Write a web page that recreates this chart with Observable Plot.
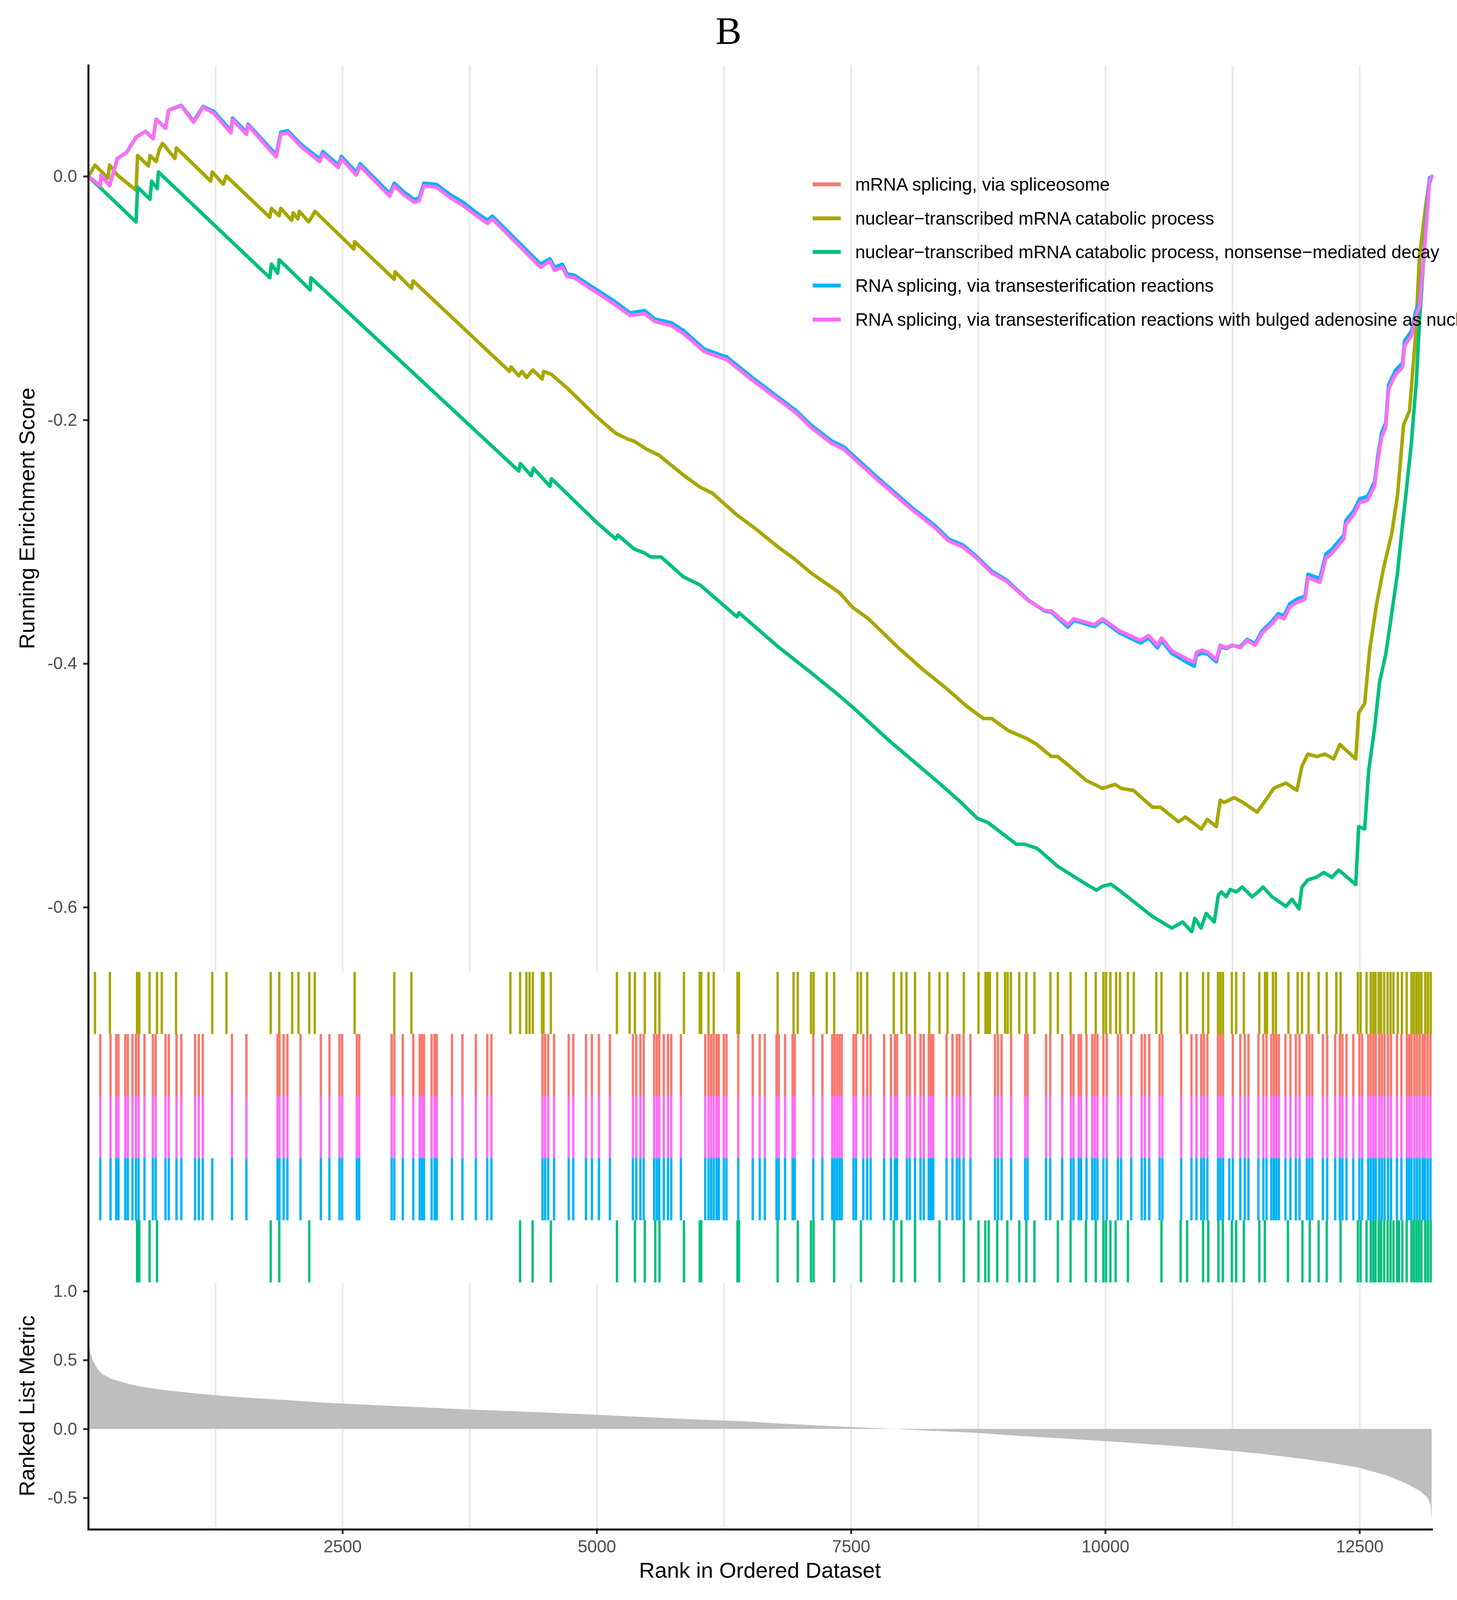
<!DOCTYPE html>
<html>
<head>
<meta charset="utf-8">
<script src="https://cdn.jsdelivr.net/npm/d3@7"></script>
<script src="https://cdn.jsdelivr.net/npm/@observablehq/plot@0.6"></script>
<style>
  html, body { margin: 0; background: #fff; overflow: hidden; }
  #chart { position: relative; width: 3731px; height: 4220px; background: #fff; overflow: hidden;
           font-family: "Liberation Sans", Arial, sans-serif; }
  .panel { position: absolute; left: 0; }
  #title { position: absolute; left: 0; width: 3731px; text-align: center;
           font-family: "Liberation Serif", "Times New Roman", serif; font-size: 100px; line-height: 100px; }
  .ytitle { position: absolute; left: 68px; font-size: 56px; white-space: nowrap; color: #000;
            transform: translate(-50%, -50%) rotate(-90deg); }
  #xtitle { position: absolute; left: 1946px; font-size: 56px; white-space: nowrap;
            transform: translate(-50%, -50%); }
  #legend { position: absolute; left: 2081px; white-space: nowrap; }
  .lrow { display: flex; align-items: center; font-size: 46px; }
  .lkey { width: 72px; height: 10px; margin-right: 37px; flex: none; }
</style>
</head>
<body>
<div id="chart">
  <div id="title">B</div>
  <div class="panel" id="p1"></div>
  <div class="panel" id="p2"></div>
  <div class="panel" id="p3"></div>
  <div class="ytitle" id="ytitle1">Running Enrichment Score</div>
  <div class="ytitle" id="ytitle2">Ranked List Metric</div>
  <div id="xtitle">Rank in Ordered Dataset</div>
  <div id="legend"></div>
</div>
<script>
// gene sets, in legend order
const setNames = [
  "mRNA splicing, via spliceosome",
  "nuclear\u2212transcribed mRNA catabolic process",
  "nuclear\u2212transcribed mRNA catabolic process, nonsense\u2212mediated decay",
  "RNA splicing, via transesterification reactions",
  "RNA splicing, via transesterification reactions with bulged adenosine as nucleophile"
];
const setColors = ["#FA786D", "#A7A700", "#00BF7D", "#00B2F6", "#FC6EF5"];
// rug rows top to bottom
const rugOrder = [setNames[1], setNames[0], setNames[4], setNames[3], setNames[2]];

const nGenes = 13209;
const gridTicks = [1250, 2500, 3750, 5000, 6250, 7500, 8750, 10000, 11250, 12500];
const xTicks = [2500, 5000, 7500, 10000, 12500];
const esTicks = [-0.6, -0.4, -0.2, 0.0];
const metricTicks = [-0.5, 0.0, 0.5, 1.0];

// running enrichment score, [rank, ES]
const splicingES = [[1,0],[117,-0.0075],[126,0.0012],[209,-0.0075],[285,0.0148],[377,0.0198],[469,0.0322],[560,0.0371],[637,0.031],[667,0.047],[759,0.0396],[790,0.0545],[912,0.0582],[1035,0.0446],[1127,0.057],[1234,0.052],[1402,0.0359],[1417,0.047],[1555,0.0347],[1570,0.0421],[1846,0.0161],[1892,0.0347],[1962,0.0359],[2090,0.0247],[2274,0.0123],[2305,0.0185],[2458,0.0074],[2488,0.0148],[2635,0.0012],[2672,0.0086],[2963,-0.0162],[3008,-0.0075],[3100,-0.0149],[3207,-0.0211],[3253,-0.0199],[3299,-0.0075],[3422,-0.0087],[3559,-0.0174],[3682,-0.0236],[3819,-0.0323],[3926,-0.0385],[3972,-0.0348],[4447,-0.0745],[4538,-0.0695],[4584,-0.077],[4661,-0.0745],[4707,-0.082],[4777,-0.0831],[5165,-0.1043],[5327,-0.1141],[5468,-0.1125],[5569,-0.119],[5731,-0.1223],[5852,-0.1289],[6054,-0.1436],[6216,-0.1485],[6276,-0.1502],[6519,-0.1665],[6781,-0.1829],[6963,-0.1944],[7105,-0.2059],[7307,-0.219],[7428,-0.2239],[7751,-0.2484],[8115,-0.2746],[8317,-0.2878],[8458,-0.2992],[8599,-0.3041],[8721,-0.3123],[8882,-0.3254],[9024,-0.332],[9246,-0.3484],[9407,-0.3566],[9468,-0.3566],[9630,-0.368],[9690,-0.3631],[9892,-0.368],[9973,-0.3631],[10135,-0.3729],[10345,-0.3808],[10424,-0.3769],[10512,-0.3848],[10551,-0.3789],[10652,-0.3893],[10815,-0.3967],[10874,-0.3987],[10894,-0.3908],[10953,-0.3888],[11011,-0.3908],[11090,-0.3967],[11129,-0.3848],[11188,-0.3868],[11247,-0.3848],[11325,-0.3868],[11393,-0.3808],[11472,-0.3848],[11540,-0.3749],[11638,-0.367],[11697,-0.361],[11756,-0.363],[11815,-0.3531],[11893,-0.3491],[11961,-0.3471],[11991,-0.3292],[12108,-0.3332],[12167,-0.3134],[12226,-0.3094],[12343,-0.2975],[12363,-0.2855],[12441,-0.2776],[12500,-0.2677],[12578,-0.2657],[12647,-0.2538],[12676,-0.2339],[12715,-0.2141],[12755,-0.2061],[12784,-0.1743],[12853,-0.1624],[12921,-0.1565],[12941,-0.1386],[13009,-0.1307],[13049,-0.1148],[13088,-0.1069],[13117,-0.079],[13137,-0.0592],[13166,-0.0274],[13186,-0.0036],[13209,0]];
const transES = [[1,0],[117,-0.0075],[126,0.0012],[209,-0.0075],[285,0.0148],[377,0.0198],[469,0.0322],[560,0.0371],[637,0.0315],[667,0.047],[759,0.04],[790,0.0545],[912,0.0585],[1035,0.0455],[1127,0.0575],[1234,0.0535],[1402,0.0375],[1417,0.048],[1555,0.0365],[1570,0.043],[1846,0.018],[1892,0.0365],[1962,0.0375],[2090,0.0265],[2274,0.0145],[2305,0.0205],[2458,0.0095],[2488,0.0165],[2635,0.0035],[2672,0.0105],[2963,-0.014],[3008,-0.0055],[3100,-0.0125],[3207,-0.019],[3253,-0.0175],[3299,-0.0055],[3422,-0.0065],[3559,-0.015],[3682,-0.021],[3819,-0.03],[3926,-0.036],[3972,-0.0325],[4447,-0.072],[4538,-0.0675],[4584,-0.0745],[4661,-0.072],[4707,-0.08],[4777,-0.081],[5165,-0.102],[5327,-0.112],[5468,-0.11],[5569,-0.117],[5731,-0.12],[5852,-0.1265],[6054,-0.1415],[6216,-0.1465],[6276,-0.148],[6519,-0.1645],[6781,-0.181],[6963,-0.1925],[7105,-0.204],[7307,-0.217],[7428,-0.222],[7751,-0.2465],[8115,-0.273],[8317,-0.286],[8458,-0.2975],[8599,-0.3025],[8721,-0.311],[8882,-0.324],[9024,-0.331],[9246,-0.348],[9407,-0.357],[9468,-0.3575],[9630,-0.37],[9690,-0.3645],[9892,-0.3695],[9973,-0.3645],[10135,-0.3745],[10345,-0.383],[10424,-0.379],[10512,-0.387],[10551,-0.381],[10652,-0.3915],[10815,-0.3995],[10874,-0.402],[10894,-0.3935],[10953,-0.391],[11011,-0.3925],[11090,-0.3985],[11129,-0.386],[11188,-0.3875],[11247,-0.385],[11325,-0.386],[11393,-0.38],[11472,-0.3835],[11540,-0.373],[11638,-0.365],[11697,-0.359],[11756,-0.3605],[11815,-0.3505],[11893,-0.3465],[11961,-0.3445],[11991,-0.3265],[12108,-0.33],[12167,-0.31],[12226,-0.306],[12343,-0.2945],[12363,-0.2825],[12441,-0.2745],[12500,-0.2645],[12578,-0.2625],[12647,-0.2505],[12676,-0.2305],[12715,-0.2105],[12755,-0.2025],[12784,-0.171],[12853,-0.159],[12921,-0.153],[12941,-0.135],[13009,-0.127],[13049,-0.111],[13088,-0.103],[13117,-0.0755],[13137,-0.056],[13166,-0.0245],[13186,-0.001],[13209,0]];
const catabolicES = [[1,0],[65,0.0094],[193,-0.0013],[209,0.0094],[285,0.0012],[469,-0.0112],[484,0.0173],[591,0.0086],[606,0.0173],[667,0.0123],[698,0.0223],[729,0.0272],[851,0.0148],[866,0.0235],[1203,-0.0038],[1218,0.0037],[1325,-0.0063],[1356,0.0004],[1784,-0.0335],[1800,-0.0261],[1876,-0.0323],[1892,-0.0261],[1999,-0.036],[2014,-0.0298],[2060,-0.0348],[2075,-0.0286],[2167,-0.0373],[2228,-0.0286],[2611,-0.0596],[2617,-0.0534],[3008,-0.0844],[3015,-0.0782],[3177,-0.0918],[3192,-0.0856],[4141,-0.16],[4156,-0.1563],[4232,-0.1637],[4263,-0.16],[4309,-0.165],[4370,-0.1588],[4462,-0.1662],[4477,-0.16],[4554,-0.1625],[4721,-0.1747],[5004,-0.1977],[5186,-0.2108],[5307,-0.2157],[5367,-0.2173],[5489,-0.2239],[5610,-0.2288],[5852,-0.2452],[6014,-0.255],[6135,-0.2599],[6377,-0.2779],[6539,-0.2878],[6781,-0.3041],[6943,-0.314],[7105,-0.3254],[7387,-0.3418],[7509,-0.3533],[7670,-0.3631],[7953,-0.386],[8195,-0.404],[8438,-0.4204],[8640,-0.4352],[8801,-0.445],[8882,-0.445],[9044,-0.4548],[9226,-0.4614],[9327,-0.4663],[9468,-0.4761],[9529,-0.4761],[9650,-0.4843],[9811,-0.4958],[9973,-0.5023],[10094,-0.499],[10155,-0.5023],[10276,-0.504],[10463,-0.5178],[10541,-0.5178],[10718,-0.5297],[10786,-0.5258],[10943,-0.5357],[11002,-0.5278],[11090,-0.5337],[11129,-0.5119],[11168,-0.5139],[11266,-0.5099],[11354,-0.5139],[11491,-0.5218],[11560,-0.5139],[11658,-0.502],[11775,-0.498],[11883,-0.5039],[11932,-0.4841],[11991,-0.4742],[12079,-0.4762],[12157,-0.4742],[12245,-0.4781],[12304,-0.4662],[12461,-0.4781],[12490,-0.4404],[12549,-0.4325],[12598,-0.3888],[12666,-0.351],[12735,-0.3213],[12814,-0.2935],[12872,-0.2617],[12931,-0.2041],[12990,-0.1922],[13049,-0.1306],[13088,-0.0651],[13147,-0.0254],[13186,-0.0036],[13209,0]];
const nmdES = [[1,0],[469,-0.0373],[484,-0.0087],[606,-0.0187],[622,-0.0038],[677,-0.01],[689,0.0037],[1784,-0.0831],[1800,-0.0719],[1861,-0.0794],[1876,-0.0683],[2182,-0.0931],[2188,-0.0831],[4232,-0.2418],[4248,-0.2357],[4355,-0.2456],[4376,-0.2394],[4538,-0.2543],[4554,-0.2481],[4802,-0.2681],[5004,-0.2845],[5186,-0.2976],[5206,-0.2943],[5367,-0.3058],[5468,-0.3091],[5529,-0.3123],[5630,-0.3123],[5852,-0.3287],[6014,-0.3353],[6377,-0.3615],[6398,-0.3582],[6781,-0.386],[7105,-0.4073],[7347,-0.4237],[7509,-0.4352],[7872,-0.463],[8357,-0.4974],[8559,-0.5122],[8741,-0.5269],[8842,-0.5302],[9125,-0.5482],[9206,-0.5482],[9327,-0.5515],[9529,-0.5662],[9811,-0.581],[9912,-0.5859],[9973,-0.5826],[10054,-0.581],[10135,-0.5859],[10458,-0.6072],[10652,-0.617],[10760,-0.612],[10848,-0.62],[10880,-0.609],[10940,-0.617],[10990,-0.605],[11070,-0.612],[11110,-0.59],[11139,-0.5873],[11188,-0.5913],[11227,-0.5853],[11286,-0.5873],[11345,-0.5833],[11442,-0.5913],[11501,-0.5873],[11550,-0.5833],[11638,-0.5913],[11775,-0.5992],[11834,-0.5933],[11903,-0.6012],[11932,-0.5833],[11991,-0.5774],[12070,-0.5754],[12147,-0.5714],[12226,-0.5754],[12294,-0.5694],[12461,-0.5813],[12490,-0.5337],[12549,-0.5357],[12588,-0.488],[12647,-0.4523],[12696,-0.4146],[12755,-0.3927],[12804,-0.365],[12872,-0.3253],[12911,-0.2935],[12951,-0.2637],[13009,-0.218],[13058,-0.1664],[13088,-0.1188],[13117,-0.083],[13147,-0.0433],[13176,-0.0076],[13209,0]];

// hit positions (rank) for the rug rows
const splicingHits = [117,218,274,296,363,388,434,468,494,552,634,662,759,791,867,914,1050,1086,1125,1412,1554,1860,1879,1920,1957,2086,2286,2370,2469,2495,2639,2663,2982,3008,3092,3195,3258,3280,3300,3375,3405,3426,3575,3678,3810,3922,3963,4465,4491,4521,4579,4723,4768,4893,4951,5020,5128,5354,5387,5428,5460,5563,5589,5613,5658,5699,5731,5826,6065,6097,6123,6149,6177,6199,6248,6274,6390,6532,6601,6651,6766,6788,6850,6924,6945,7128,7217,7314,7337,7361,7385,7408,7523,7548,7619,7658,7691,7824,7891,7930,7951,8048,8076,8128,8182,8214,8263,8285,8307,8438,8496,8539,8565,8606,8673,8914,8944,8979,9073,9211,9235,9416,9457,9575,9661,9687,9737,9760,9814,9870,9896,9922,9980,10013,10123,10154,10254,10357,10388,10431,10533,10560,10745,10846,10895,10942,10968,11002,11107,11131,11156,11252,11326,11370,11406,11504,11553,11584,11631,11656,11680,11705,11770,11819,11872,11908,11980,12006,12033,12138,12180,12259,12305,12330,12370,12437,12497,12524,12584,12609,12634,12658,12692,12718,12745,12779,12808,12866,12910,12964,12986,13009,13038,13064,13091,13120,13142,13169,13196];
const transExtraHits = [1218, 11218];
const catabolicHits = [65,212,479,501,602,675,722,862,1218,1358,1793,1877,2004,2066,2172,2226,2618,3008,3176,4150,4245,4307,4338,4370,4460,4475,4547,5197,5322,5374,5471,5574,5615,5856,6011,6026,6097,6149,6382,6397,6777,6934,6975,7105,7131,7260,7333,7563,7596,7658,7919,7994,8044,8128,8268,8369,8447,8608,8752,8821,8843,8864,8936,9013,9039,9071,9153,9222,9302,9459,9532,9657,9808,9905,9980,10006,10049,10105,10143,10221,10279,10500,10551,10739,10803,10960,11011,11107,11131,11156,11243,11285,11361,11513,11569,11589,11647,11676,11799,11890,11933,11997,12096,12176,12270,12312,12482,12509,12567,12609,12634,12656,12687,12710,12741,12774,12803,12832,12875,12915,12962,13009,13033,13058,13082,13107,13145,13171,13198];
const nmdHits = [479,501,602,675,1793,1877,2172,4245,4368,4547,5197,5374,5471,5574,5615,5856,6011,6026,6382,6397,6777,6975,7105,7131,7333,7596,7919,7994,8128,8369,8608,8752,8819,8852,8936,9035,9153,9222,9302,9532,9657,9808,9905,9980,10006,10049,10100,10221,10551,10739,10803,10960,11011,11111,11154,11243,11285,11361,11513,11567,11794,11937,12009,12096,12176,12312,12482,12509,12567,12609,12634,12656,12687,12710,12741,12774,12803,12832,12868,12886,12919,12962,13009,13033,13058,13082,13107,13145,13171,13198];

// ranked list metric, [rank, value]
const metric = [[1,0.63],[20,0.56],[46,0.5],[92,0.435],[137,0.4],[229,0.363],[412,0.323],[595,0.298],[778,0.279],[962,0.265],[1236,0.245],[1511,0.229],[1877,0.213],[2335,0.19],[2793,0.174],[3251,0.158],[3709,0.142],[4167,0.129],[4625,0.115],[5083,0.1],[5541,0.084],[5998,0.068],[6456,0.055],[6914,0.035],[7372,0.019],[7738,0.006],[7922,0],[8288,-0.013],[8746,-0.029],[9204,-0.053],[9662,-0.073],[10120,-0.094],[10577,-0.118],[11035,-0.145],[11493,-0.177],[11951,-0.218],[12226,-0.247],[12500,-0.282],[12775,-0.339],[12958,-0.395],[13096,-0.45],[13170,-0.5],[13200,-0.56],[13209,-0.65]];

const toRows = (pairs) => pairs.map(([rank, v]) => ({rank, v}));
const W = 3731, mL = 226, mR = 65;
// fit the figure's height to the visible window
const k = Math.min(1, (window.innerHeight || 4220) / 4220);
const Y = v => Math.round(v * k);
const baseStyle = {fontFamily: "Liberation Sans, Arial, sans-serif", fontSize: "44px", color: "#4D4D4D", background: "white", overflow: "visible"};
const fmt = d => d.toFixed(1);

const panelTop = [Y(150), Y(2562), Y(3383)];
const chart = document.getElementById("chart");
chart.style.height = Y(4220) + "px";
document.getElementById("title").style.top = Y(30) + "px";
["p1", "p2", "p3"].forEach((id, i) => document.getElementById(id).style.top = panelTop[i] + "px");
document.getElementById("ytitle1").style.top = Y(1367) + "px";
document.getElementById("ytitle2").style.top = Y(3708) + "px";
document.getElementById("xtitle").style.top = Y(4141) + "px";

// running score panel
const curves = [
  [splicingES, setColors[0]],
  [catabolicES, setColors[1]],
  [nmdES, setColors[2]],
  [transES, setColors[3]],
  [splicingES, setColors[4]]
];
const p1 = Plot.plot({
  width: W, height: panelTop[1] - panelTop[0],
  marginTop: Y(172) - panelTop[0], marginBottom: 0, marginLeft: mL, marginRight: mR,
  style: baseStyle,
  x: {domain: [1, nGenes], axis: null},
  y: {domain: [-0.6528, 0.0912], axis: null},
  marks: [
    Plot.ruleX(gridTicks, {stroke: "#EBEBEB", strokeWidth: 5}),
    ...curves.map(([pairs, c]) => Plot.line(toRows(pairs), {x: "rank", y: "v", stroke: c, strokeWidth: 9})),
    Plot.axisY(esTicks, {tickFormat: fmt, tickSize: 13, tickPadding: 16, strokeWidth: 5, label: null, stroke: "#333"}),
    Plot.frame({anchor: "left", stroke: "black", strokeWidth: 5})
  ]
});
document.getElementById("p1").append(p1);

// rug panel
const rug = [
  ...splicingHits.map(rank => ({rank, set: setNames[0]})),
  ...splicingHits.map(rank => ({rank, set: setNames[4]})),
  ...splicingHits.concat(transExtraHits).map(rank => ({rank, set: setNames[3]})),
  ...catabolicHits.map(rank => ({rank, set: setNames[1]})),
  ...nmdHits.map(rank => ({rank, set: setNames[2]}))
];
const p2 = Plot.plot({
  width: W, height: panelTop[2] - panelTop[1],
  marginTop: 0, marginBottom: 0, marginLeft: mL, marginRight: mR,
  style: baseStyle,
  x: {domain: [1, nGenes], axis: null},
  y: {type: "band", domain: rugOrder, padding: 0, axis: null},
  color: {domain: setNames, range: setColors},
  marks: [
    Plot.tickX(rug, {x: "rank", y: "set", stroke: "set", strokeWidth: 6}),
    Plot.frame({anchor: "left", stroke: "black", strokeWidth: 5})
  ]
});
document.getElementById("p2").append(p2);

// ranked list metric panel
const p3 = Plot.plot({
  width: W, height: Y(4220) - panelTop[2],
  marginTop: 0, marginBottom: Y(4220) - Y(4034), marginLeft: mL, marginRight: mR,
  style: baseStyle,
  x: {domain: [1, nGenes], axis: null},
  y: {domain: [-0.728, 1.06], axis: null},
  marks: [
    Plot.ruleX(gridTicks, {stroke: "#EBEBEB", strokeWidth: 5}),
    Plot.areaY(toRows(metric), {x: "rank", y: "v", fill: "#BEBEBE"}),
    Plot.axisY(metricTicks, {tickFormat: fmt, tickSize: 13, tickPadding: 16, strokeWidth: 5, label: null, stroke: "#333"}),
    Plot.axisX(xTicks, {tickFormat: d => String(d), tickSize: 12, tickPadding: 15, strokeWidth: 5, label: null, stroke: "#333"}),
    Plot.frame({anchor: "left", stroke: "black", strokeWidth: 5}),
    Plot.frame({anchor: "bottom", stroke: "black", strokeWidth: 5})
  ]
});
document.getElementById("p3").append(p3);

// legend
const legend = document.getElementById("legend");
legend.style.top = Y(442) + "px";
setNames.forEach((name, i) => {
  const row = document.createElement("div");
  row.className = "lrow";
  row.style.height = (89 * k) + "px";
  const key = document.createElement("div");
  key.className = "lkey";
  key.style.background = setColors[i];
  const label = document.createElement("span");
  label.textContent = name;
  row.append(key, label);
  legend.append(row);
});
</script>
</body>
</html>
